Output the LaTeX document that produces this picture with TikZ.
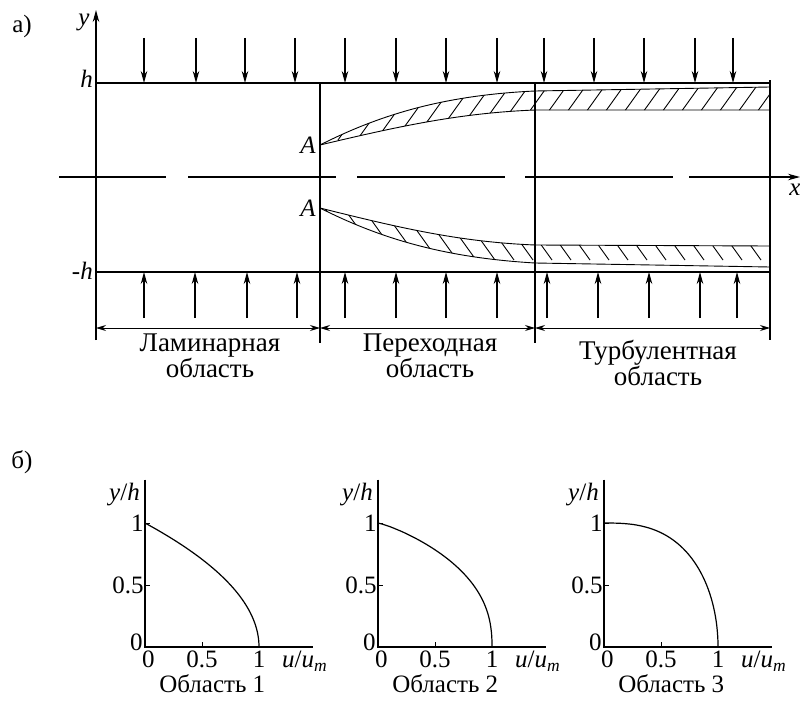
\documentclass[tikz,border=0pt]{standalone}
\usepackage{fontspec}
\setmainfont{Liberation Serif}
\usetikzlibrary{arrows.meta}
\tikzset{
  linea/.style={line width=1.2pt},
  flecha/.style={line width=1.2pt,-{Stealth[length=12pt,width=6.5pt]}},
  cota/.style={line width=1pt,{Stealth[length=10pt,width=6pt]}-{Stealth[length=10pt,width=6pt]}},
  raya/.style={line width=0.9pt},
  curva/.style={line width=1.2pt},
  etiq/.style={font=\fontsize{25}{20}\selectfont,inner sep=0pt},
  region/.style={font=\fontsize{27}{21}\selectfont,inner sep=0pt,anchor=north,align=center},
}
\begin{document}
\begin{tikzpicture}[x=1pt,y=-1pt]
    \useasboundingbox (0,0) rectangle (800,701);

    % а) canal
    \node[etiq] (ta) at (22,26) {а)};

    % ejes
    \draw[flecha] (96,340) -- (96,10);
    \node[etiq] (ylab) at (84,22) {\textit{y}};
    \foreach \xa/\xb in {59/166,188/336,357/505,525/673}{
      \draw[linea] (\xa,177) -- (\xb,177);
    }
    \draw[flecha] (689,177) -- (800,177);
    \node[etiq] (xlab) at (795,190) {\textit{x}};

    % paredes
    \draw[linea] (96,83) -- (770,83);
    \draw[linea] (96,272) -- (770,272);
    \node[etiq,anchor=east] (h) at (93,79) {\textit{h}};
    \node[etiq,anchor=east] (mh) at (93,271) {-\textit{h}};

    % divisiones
    \draw[linea] (320,83) -- (320,343);
    \draw[linea] (535,83) -- (535,343);
    \draw[linea] (770,80) -- (770,340);

    % flechas de succion
    \foreach \x in {144,196,245,295,345,396,446,497,544,594,644,695,733}{
      \draw[flecha] (\x,38) -- (\x,83);
    }
    \foreach \x in {144,195,247,297,345,396,446,497,547,598,649,700,737}{
      \draw[flecha] (\x,318) -- (\x,272);
    }

    % capa limite superior
    \begin{scope}
      \clip (320,145) .. controls (385,112) and (450,95) .. (535,91) -- (770,87)
        -- (770,110) -- (535,110) .. controls (460,113) and (400,126) .. (320,145) -- cycle;
      \foreach \xh in {300,319,...,780}{
        \draw[raya] (\xh,140) -- ++(43,-60);
      }
    \end{scope}
    \draw[raya] (320,145) .. controls (385,112) and (450,95) .. (535,91) -- (770,87);
    \draw[raya] (320,145) .. controls (400,126) and (460,113) .. (535,110) -- (770,110);
    \node[etiq,anchor=east] (A1) at (316,145) {\textit{A}};

    % capa limite inferior
    \begin{scope}
      \clip (320,208) .. controls (385,241) and (450,258) .. (535,263) -- (770,267)
        -- (770,246) -- (535,245) .. controls (460,242) and (400,228) .. (320,208) -- cycle;
      \foreach \xh in {300,319,...,780}{
        \draw[raya] (\xh,200) -- ++(43,60);
      }
    \end{scope}
    \draw[raya] (320,208) .. controls (385,241) and (450,258) .. (535,263) -- (770,267);
    \draw[raya] (320,208) .. controls (400,228) and (460,242) .. (535,245) -- (770,246);
    \node[etiq,anchor=east] (A2) at (316,208) {\textit{A}};

    % cotas de las regiones
    \draw[cota] (96,328) -- (320,328);
    \draw[cota] (320,328) -- (535,328);
    \draw[cota] (535,328) -- (770,328);
    \node[region] (lam) at (210,334) {Ламинарная\\область};
    \node[region] (tra) at (430,334) {Переходная\\область};
    \node[region] (tur) at (658,340) {Турбулентная\\область};

    % б) perfiles
    \node[etiq] (tb) at (22,462) {б)};

    \foreach \n/\ox in {1/145,2/378,3/604}{
      \begin{scope}[shift={(\ox,647)},x=114pt,y=124pt]
        \draw[linea] (0,1.35) -- (0,0) -- (1.47,0);
        \draw[raya] (0,1) -- (0.04,1) (0,0.5) -- (0.04,0.5) (0.5,0) -- (0.5,0.04);
        \node[etiq] (yh\n) at (-0.18,1.23) {\textit{y}/\textit{h}};
        \node[etiq,anchor=east] (y1\n) at (-0.01,1) {1};
        \node[etiq,anchor=east] (y05\n) at (-0.01,0.5) {0.5};
        \node[etiq,anchor=east] (y0\n) at (-0.02,0.04) {0};
        \node[etiq,anchor=north] (x0\n) at (0.03,-0.03) {0};
        \node[etiq,anchor=north] (x05\n) at (0.5,-0.03) {0.5};
        \node[etiq,anchor=north] (x1\n) at (1,-0.03) {1};
        \node[etiq,anchor=north] (xu\n) at (1.4,-0.03) {\textit{u}/\textit{u}\textsubscript{\textit{m}}};
        \node[etiq,anchor=north] (reg\n) at (0.59,-0.22) {Область \n};
      \end{scope}
    }

    % curvas
    \draw[curva,shift={(145,647)},x=114pt,y=124pt] (1,0) --
      plot[domain=0.02:1,samples=50,variable=\t] ({1-\t*\t},\t);
    \draw[curva,shift={(378,647)},x=114pt,y=124pt] (1,0) --
      plot[domain=0.02:0.99,samples=50,variable=\t] ({(1-\t^2.4)^0.85},\t) -- (0,1);
    \draw[curva,shift={(604,647)},x=114pt,y=124pt] (0,1) --
      plot[domain=89:0,samples=60,variable=\t] ({cos(\t)^0.733},{sin(\t)});
\end{tikzpicture}
\end{document}
